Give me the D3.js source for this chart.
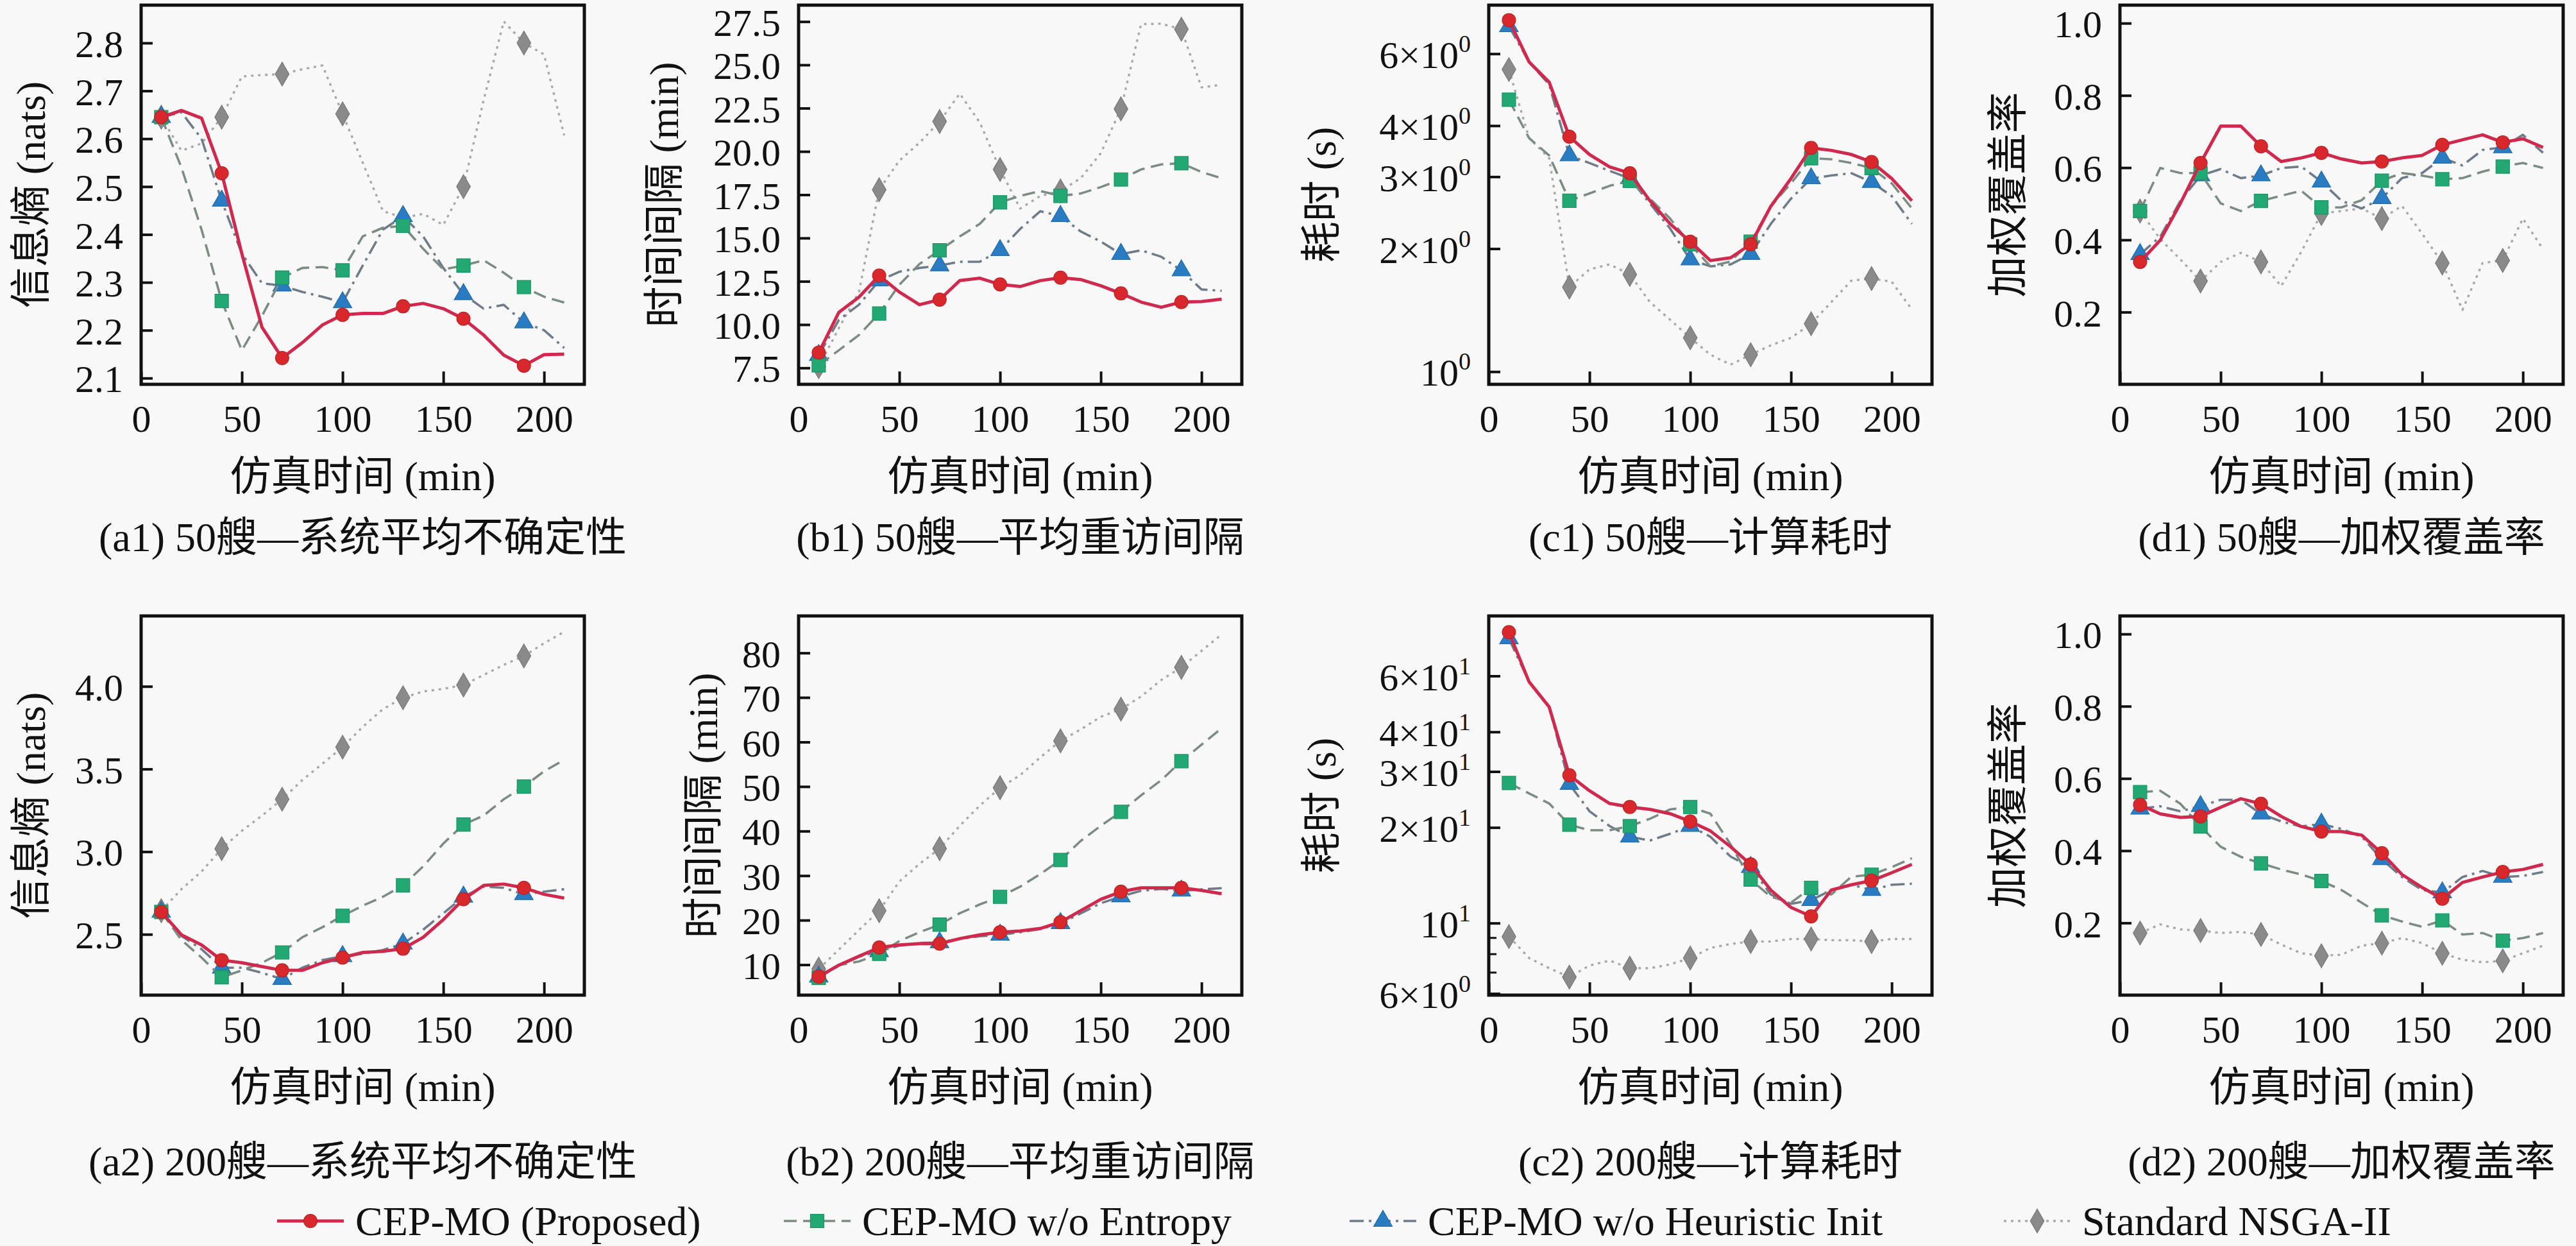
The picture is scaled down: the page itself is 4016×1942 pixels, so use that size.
<!DOCTYPE html>
<html>
<head>
<meta charset="utf-8">
<script src="https://cdn.jsdelivr.net/npm/d3@7"></script>
<style>
  html, body { margin: 0; padding: 0; background: #f8f8f8; }
  svg { display: block; }
  text { font-family: "Liberation Serif", "Noto Sans CJK SC", serif; fill: #111; }
</style>
</head>
<body>
<svg id="chart" width="4016" height="1942"></svg>
<script>
// Simulation time (min)
const simTime = [10, 20, 30, 40, 50, 60, 70, 80, 90, 100, 110, 120, 130, 140, 150, 160, 170, 180, 190, 200, 210];

// (a1) 50 ships - mean uncertainty (nats)
const a1Proposed = [2.645, 2.659, 2.643, 2.528, 2.36, 2.206, 2.142, 2.174, 2.211, 2.232, 2.235, 2.235, 2.25, 2.256, 2.245, 2.224, 2.19, 2.148, 2.126, 2.149, 2.15];
const a1NoEntropy = [2.645, 2.54, 2.41, 2.261, 2.158, 2.23, 2.31, 2.33, 2.332, 2.325, 2.396, 2.414, 2.418, 2.37, 2.327, 2.335, 2.346, 2.32, 2.29, 2.27, 2.258];
const a1NoHeur = [2.645, 2.655, 2.6, 2.47, 2.36, 2.298, 2.293, 2.28, 2.27, 2.258, 2.335, 2.41, 2.438, 2.396, 2.33, 2.275, 2.245, 2.253, 2.216, 2.2, 2.163];
const a1Nsga = [2.645, 2.575, 2.59, 2.645, 2.73, 2.733, 2.735, 2.745, 2.753, 2.652, 2.55, 2.449, 2.435, 2.443, 2.42, 2.5, 2.68, 2.845, 2.8, 2.776, 2.607];

// (b1) 50 ships - mean revisit interval (min)
const b1Proposed = [8.38, 10.71, 11.59, 12.83, 11.88, 11.15, 11.44, 12.54, 12.68, 12.32, 12.2, 12.54, 12.71, 12.6, 12.24, 11.8, 11.3, 11.0, 11.3, 11.33, 11.47];
const b1NoEntropy = [7.65, 8.52, 9.4, 10.64, 12.3, 13.5, 14.29, 15.09, 15.82, 17.06, 17.43, 17.72, 17.43, 17.57, 17.94, 18.38, 18.96, 19.25, 19.32, 18.81, 18.45];
const b1NoHeur = [8.23, 10.27, 11.15, 12.54, 13.05, 13.27, 13.41, 13.63, 13.63, 14.29, 15.53, 16.55, 16.26, 15.38, 14.8, 14.07, 14.29, 13.92, 13.12, 12.03, 11.95];
const b1Nsga = [7.57, 9.8, 11.9, 17.79, 19.47, 20.5, 21.73, 23.34, 21.66, 18.96, 16.7, 17.43, 17.72, 18.45, 19.9, 22.46, 27.35, 27.38, 27.06, 23.7, 23.85];

// (c1) 50 ships - computation time (s)
const c1Proposed = [7.25, 5.73, 5.11, 3.76, 3.40, 3.17, 3.06, 2.62, 2.30, 2.08, 1.87, 1.90, 2.05, 2.54, 2.97, 3.53, 3.48, 3.40, 3.26, 2.97, 2.62];
const c1NoEntropy = [4.63, 3.73, 3.38, 2.62, 2.73, 2.85, 2.93, 2.65, 2.37, 2.05, 1.81, 1.86, 2.08, 2.54, 2.89, 3.33, 3.31, 3.24, 3.15, 2.89, 2.51];
const c1NoHeur = [7.0, 5.73, 5.04, 3.38, 3.24, 3.10, 2.97, 2.58, 2.24, 1.88, 1.81, 1.83, 1.94, 2.30, 2.65, 2.97, 3.02, 3.06, 2.91, 2.69, 2.30];
const c1Nsga = [5.49, 3.73, 3.33, 1.61, 1.78, 1.83, 1.73, 1.48, 1.34, 1.21, 1.10, 1.04, 1.10, 1.16, 1.21, 1.31, 1.48, 1.67, 1.69, 1.66, 1.42];

// (d1) 50 ships - weighted coverage
const d1Proposed = [0.339, 0.399, 0.501, 0.613, 0.715, 0.715, 0.659, 0.617, 0.627, 0.641, 0.624, 0.613, 0.617, 0.627, 0.634, 0.663, 0.677, 0.691, 0.670, 0.680, 0.656];
const d1NoEntropy = [0.48, 0.599, 0.585, 0.585, 0.501, 0.48, 0.508, 0.522, 0.536, 0.49, 0.49, 0.51, 0.564, 0.585, 0.578, 0.568, 0.571, 0.589, 0.603, 0.613, 0.599];
const d1NoHeur = [0.36, 0.409, 0.508, 0.578, 0.596, 0.571, 0.578, 0.599, 0.603, 0.561, 0.508, 0.487, 0.515, 0.571, 0.585, 0.627, 0.606, 0.649, 0.656, 0.691, 0.641];
const d1Nsga = [0.48, 0.402, 0.346, 0.286, 0.339, 0.364, 0.339, 0.272, 0.367, 0.473, 0.48, 0.487, 0.459, 0.494, 0.417, 0.336, 0.206, 0.336, 0.343, 0.459, 0.374];

// (a2) 200 ships
const a2Proposed = [2.635, 2.497, 2.436, 2.344, 2.328, 2.305, 2.282, 2.282, 2.328, 2.359, 2.39, 2.397, 2.413, 2.482, 2.589, 2.712, 2.796, 2.804, 2.781, 2.742, 2.719];
const a2NoEntropy = [2.635, 2.466, 2.359, 2.24, 2.282, 2.328, 2.39, 2.482, 2.543, 2.612, 2.673, 2.727, 2.796, 2.911, 3.049, 3.164, 3.218, 3.317, 3.394, 3.486, 3.555];
const a2NoHeur = [2.635, 2.49, 2.41, 2.298, 2.298, 2.267, 2.229, 2.298, 2.344, 2.367, 2.382, 2.405, 2.443, 2.528, 2.627, 2.727, 2.788, 2.781, 2.742, 2.758, 2.773];
const a2Nsga = [2.643, 2.773, 2.88, 3.018, 3.126, 3.218, 3.317, 3.433, 3.532, 3.632, 3.755, 3.862, 3.931, 3.969, 3.985, 4.008, 4.069, 4.13, 4.184, 4.261, 4.33];

// (b2) 200 ships
const b2Proposed = [7.33, 9.9, 11.9, 13.87, 14.44, 14.72, 14.72, 15.86, 16.7, 17.29, 17.57, 18.14, 19.56, 22.12, 24.68, 26.39, 27.25, 27.25, 27.25, 26.68, 25.94];
const b2NoEntropy = [7.04, 9.9, 10.74, 12.45, 15.3, 17.29, 19.0, 21.55, 23.55, 25.25, 27.53, 30.37, 33.5, 37.77, 41.19, 44.32, 48.02, 51.43, 55.7, 59.4, 63.1];
const b2NoHeur = [7.3, 9.8, 11.8, 13.0, 14.3, 14.9, 15.0, 15.8, 16.4, 16.7, 17.3, 18.0, 19.3, 21.5, 23.8, 25.3, 26.6, 27.0, 26.6, 26.9, 27.2];
const b2Nsga = [9.03, 13.4, 17.8, 22.12, 28.67, 32.65, 36.07, 41.19, 45.74, 49.73, 52.57, 56.56, 60.26, 62.82, 65.66, 67.37, 70.21, 73.92, 76.76, 80.46, 84.16];

// (c2) 200 ships
const c2Proposed = [82.4, 57.5, 47.9, 29.2, 26.1, 23.8, 23.2, 22.8, 22.1, 20.9, 19.5, 17.4, 15.3, 12.7, 11.2, 10.5, 12.7, 13.2, 13.6, 14.4, 15.3];
const c2NoEntropy = [27.6, 25.6, 23.8, 20.4, 19.6, 19.6, 20.2, 21.3, 22.8, 23.2, 22.1, 17.7, 13.7, 12.1, 11.6, 12.9, 12.3, 14.0, 14.2, 15.0, 16.0];
const c2NoHeur = [78.7, 57.5, 47.9, 27.4, 22.5, 20.2, 18.7, 18.2, 19.1, 20.2, 18.7, 16.2, 15.0, 12.3, 11.5, 11.8, 12.7, 13.2, 12.7, 13.2, 13.3];
const c2Nsga = [9.07, 7.76, 7.21, 6.76, 7.35, 7.62, 7.21, 7.21, 7.41, 7.76, 8.35, 8.59, 8.75, 8.75, 8.91, 8.91, 8.83, 8.83, 8.75, 8.91, 8.91];

// (d2) 200 ships
const d2Proposed = [0.527, 0.502, 0.492, 0.495, 0.52, 0.544, 0.53, 0.495, 0.467, 0.453, 0.453, 0.443, 0.393, 0.334, 0.298, 0.267, 0.312, 0.327, 0.341, 0.348, 0.362];
const d2NoEntropy = [0.562, 0.566, 0.53, 0.467, 0.411, 0.383, 0.365, 0.348, 0.334, 0.316, 0.291, 0.256, 0.221, 0.204, 0.189, 0.207, 0.168, 0.172, 0.151, 0.158, 0.172];
const d2NoHeur = [0.516, 0.523, 0.509, 0.523, 0.541, 0.541, 0.502, 0.481, 0.467, 0.474, 0.46, 0.439, 0.376, 0.327, 0.291, 0.284, 0.327, 0.344, 0.327, 0.33, 0.341];
const d2Nsga = [0.172, 0.196, 0.182, 0.179, 0.172, 0.175, 0.168, 0.14, 0.116, 0.109, 0.112, 0.137, 0.144, 0.158, 0.144, 0.116, 0.098, 0.091, 0.095, 0.116, 0.137];

// Tick values and labels
const xTicks = [0, 50, 100, 150, 200];
const a1Ticks = [2.1, 2.2, 2.3, 2.4, 2.5, 2.6, 2.7, 2.8];
const b1Ticks = [7.5, 10, 12.5, 15, 17.5, 20, 22.5, 25, 27.5];
const c1Ticks = [1, 2, 3, 4, 6];
const c1TickLabels = ['10^0', '2×10^0', '3×10^0', '4×10^0', '6×10^0'];
const dTicks = [0.2, 0.4, 0.6, 0.8, 1.0];
const a2Ticks = [2.5, 3.0, 3.5, 4.0];
const b2Ticks = [10, 20, 30, 40, 50, 60, 70, 80];
const c2Ticks = [6, 10, 20, 30, 40, 60];
const c2TickLabels = ['6×10^0', '10^1', '2×10^1', '3×10^1', '4×10^1', '6×10^1'];
const c2MinorTicks = [7, 8, 9];

const seriesNames = ['CEP-MO (Proposed)', 'CEP-MO w/o Entropy', 'CEP-MO w/o Heuristic Init', 'Standard NSGA-II'];
const lineColors = ['#cf2a4e', '#7b8c83', '#6e7b89', '#a9a9a9'];
const markerColors = ['#d8282c', '#22a873', '#2a7cc2', '#8a8a8a'];
const lineDashes = [null, '20,10', '22,8,4,8', '4,7'];
const lineWidths = [5, 3.6, 3.6, 3.4];
const markerShapes = [d3.symbolCircle, d3.symbolSquare, d3.symbolTriangle, d3.symbolDiamond];
const markerSizes = [340, 440, 360, 400];

// Layout
const colLeft = [220, 1245, 2321, 3305];
const rowTop = [8, 960];
const W = 691, H = 591;
const xDomain = [0, 220];

const panels = [
  { col: 0, row: 0, data: [a1Proposed, a1NoEntropy, a1NoHeur, a1Nsga], yDomain: [2.087, 2.879], ticks: a1Ticks, fmt: d3.format('.1f'), ylabel: '信息熵 (nats)', labelX: 48, caption: '(a1) 50艘—系统平均不确定性' },
  { col: 1, row: 0, data: [b1Proposed, b1NoEntropy, b1NoHeur, b1Nsga], yDomain: [6.55, 28.45], ticks: b1Ticks, fmt: d3.format('.1f'), ylabel: '时间间隔 (min)', labelX: 1035, caption: '(b1) 50艘—平均重访间隔' },
  { col: 2, row: 0, data: [c1Proposed, c1NoEntropy, c1NoHeur, c1Nsga], yDomain: [0.931, 7.89], log: true, ticks: c1Ticks, labels: c1TickLabels, minor: [], ylabel: '耗时 (s)', labelX: 2060, caption: '(c1) 50艘—计算耗时' },
  { col: 3, row: 0, data: [d1Proposed, d1NoEntropy, d1NoHeur, d1Nsga], yDomain: [0.0, 1.05], ticks: dTicks, fmt: d3.format('.1f'), ylabel: '加权覆盖率', labelX: 3130, caption: '(d1) 50艘—加权覆盖率' },
  { col: 0, row: 1, data: [a2Proposed, a2NoEntropy, a2NoHeur, a2Nsga], yDomain: [2.132, 4.426], ticks: a2Ticks, fmt: d3.format('.1f'), ylabel: '信息熵 (nats)', labelX: 48, caption: '(a2) 200艘—系统平均不确定性' },
  { col: 1, row: 1, data: [b2Proposed, b2NoEntropy, b2NoHeur, b2Nsga], yDomain: [3.17, 88.3], ticks: b2Ticks, fmt: d3.format('d'), ylabel: '时间间隔 (min)', labelX: 1096, caption: '(b2) 200艘—平均重访间隔' },
  { col: 2, row: 1, data: [c2Proposed, c2NoEntropy, c2NoHeur, c2Nsga], yDomain: [5.93, 92.7], log: true, ticks: c2Ticks, labels: c2TickLabels, minor: c2MinorTicks, ylabel: '耗时 (s)', labelX: 2060, caption: '(c2) 200艘—计算耗时' },
  { col: 3, row: 1, data: [d2Proposed, d2NoEntropy, d2NoHeur, d2Nsga], yDomain: [0.0, 1.05], ticks: dTicks, fmt: d3.format('.1f'), ylabel: '加权覆盖率', labelX: 3130, caption: '(d2) 200艘—加权覆盖率' }
];
const captionY = [837, 1810];

const svg = d3.select('#chart');
svg.append('rect').attr('width', 4016).attr('height', 1942).attr('fill', '#f8f8f8');

// write "m×10^e" as text with a superscript
function sciLabel(sel, label) {
  const parts = label.split('^');
  sel.text(null);
  sel.append('tspan').text(parts[0]);
  sel.append('tspan').attr('dy', -25).attr('font-size', 38).text(parts[1]);
}

panels.forEach((p, pi) => {
  const x0 = colLeft[p.col], y0 = rowTop[p.row];
  const g = svg.append('g').attr('transform', `translate(${x0},${y0})`);

  const x = d3.scaleLinear().domain(xDomain).range([0, W]);
  const y = (p.log ? d3.scaleLog() : d3.scaleLinear()).domain(p.yDomain).range([H, 0]);

  g.append('clipPath').attr('id', 'clip' + pi)
    .append('rect').attr('width', W).attr('height', H);

  const plot = g.append('g').attr('clip-path', `url(#clip${pi})`);
  const line = d3.line()
    .x((d, i) => x(simTime[i]))
    .y(d => y(d));

  // draw the baselines first so the proposed method ends up on top
  for (let k = 3; k >= 0; k--) {
    const vals = p.data[k];
    plot.append('path')
      .datum(vals)
      .attr('d', line)
      .attr('fill', 'none')
      .attr('stroke', lineColors[k])
      .attr('stroke-width', lineWidths[k])
      .attr('stroke-dasharray', lineDashes[k])
      .attr('stroke-linejoin', 'round');

    const sym = d3.symbol().type(markerShapes[k]).size(markerSizes[k]);
    plot.selectAll(null)
      .data(vals.map((v, i) => [simTime[i], v]).filter((d, i) => i % 3 === 0))
      .enter()
      .append('path')
      .attr('d', sym)
      .attr('transform', d => `translate(${x(d[0])},${y(d[1])})`)
      .attr('fill', markerColors[k])
      .attr('stroke', d3.color(markerColors[k]).darker(0.4))
      .attr('stroke-width', 1.2);
  }

  // x axis
  const xAxis = g.append('g')
    .attr('transform', `translate(0,${H})`)
    .call(d3.axisBottom(x).tickValues(xTicks).tickFormat(d3.format('d')).tickSize(-20).tickPadding(31));
  xAxis.select('.domain').remove();
  xAxis.selectAll('line').attr('stroke', '#111').attr('stroke-width', 4);
  xAxis.selectAll('text').attr('font-size', 60).attr('fill', '#111')
    .style('font-family', '"Liberation Serif", serif');

  // y axis
  const yAxis = g.append('g')
    .call(d3.axisLeft(y).tickValues(p.ticks).tickFormat(p.log ? (() => '') : p.fmt).tickSize(-18).tickPadding(28));
  yAxis.select('.domain').remove();
  yAxis.selectAll('line').attr('stroke', '#111').attr('stroke-width', 4);
  yAxis.selectAll('text').attr('font-size', 60).attr('dy', '0.36em').attr('fill', '#111')
    .style('font-family', '"Liberation Serif", serif');
  if (p.log) {
    yAxis.selectAll('.tick text').each(function (d, i) {
      sciLabel(d3.select(this), p.labels[i]);
    });
    const minor = g.append('g')
      .call(d3.axisLeft(y).tickValues(p.minor).tickFormat('').tickSize(-12));
    minor.select('.domain').remove();
    minor.selectAll('line').attr('stroke', '#111').attr('stroke-width', 3);
  }

  // frame
  g.append('rect').attr('width', W).attr('height', H)
    .attr('fill', 'none').attr('stroke', '#111').attr('stroke-width', 5);

  // y label
  svg.append('text')
    .attr('transform', `translate(${p.labelX},${y0 + H / 2}) rotate(-90)`)
    .attr('text-anchor', 'middle')
    .attr('dy', '0.35em')
    .attr('font-size', 64)
    .text(p.ylabel);

  // x label
  svg.append('text')
    .attr('x', x0 + W / 2)
    .attr('y', y0 + H + 143)
    .attr('text-anchor', 'middle')
    .attr('dy', '0.35em')
    .attr('font-size', 64)
    .text('仿真时间 (min)');

  // caption
  svg.append('text')
    .attr('x', x0 + W / 2)
    .attr('y', captionY[p.row])
    .attr('text-anchor', 'middle')
    .attr('dy', '0.35em')
    .attr('font-size', 64)
    .text(p.caption);
});

// legend
const legendX = [432, 1222, 2104, 3124];
const legendY = 1903;
const legend = svg.append('g');
seriesNames.forEach((name, k) => {
  const lg = legend.append('g').attr('transform', `translate(${legendX[k]},${legendY})`);
  lg.append('line')
    .attr('x1', 0).attr('x2', 104)
    .attr('stroke', lineColors[k])
    .attr('stroke-width', lineWidths[k])
    .attr('stroke-dasharray', lineDashes[k]);
  lg.append('path')
    .attr('d', d3.symbol().type(markerShapes[k]).size(markerSizes[k]))
    .attr('transform', 'translate(52,0)')
    .attr('fill', markerColors[k])
    .attr('stroke', d3.color(markerColors[k]).darker(0.4))
    .attr('stroke-width', 1.2);
  lg.append('text')
    .attr('x', 122)
    .attr('dy', '0.35em')
    .attr('font-size', 64)
    .text(name);
});
</script>
</body>
</html>
